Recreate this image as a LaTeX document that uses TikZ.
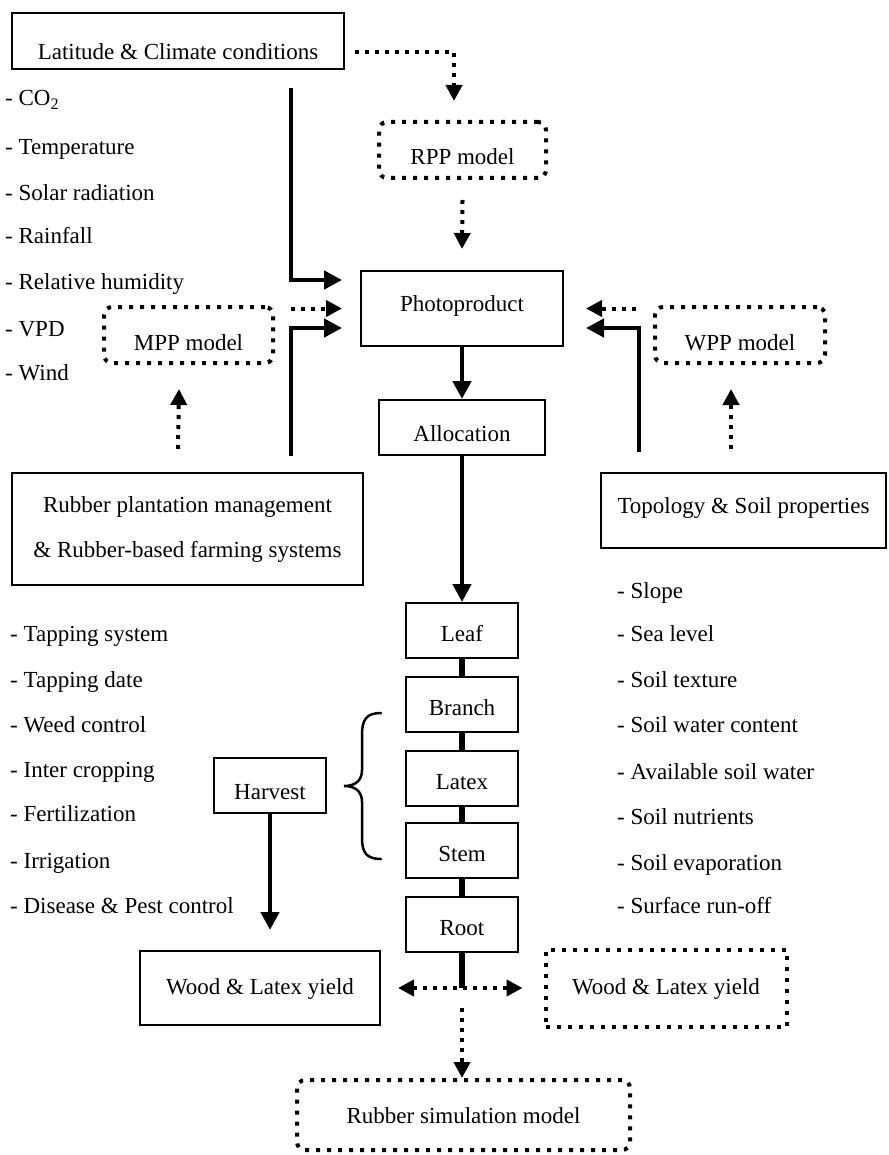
\documentclass[tikz,border=0pt]{standalone}
\usepackage{fontspec}
\setmainfont{Liberation Serif}
\usetikzlibrary{arrows.meta}
\newcommand{\fsz}{\fontsize{23}{45}\selectfont}
\begin{document}
\begin{tikzpicture}[x=1pt,y=-1pt,
  every node/.style={font=\fsz, inner sep=0pt},
  txt/.style={text depth=5.75pt, text height=#1},
  sbox/.style={draw, line width=2pt, rectangle},
  dbox/.style={draw, line width=4pt, dash pattern=on 4pt off 7pt},
  rbox/.style={dbox, rounded corners=8pt},
  item/.style={anchor=west, txt=21.75pt},
  solidarrow/.style={line width=4.5pt, -{Triangle[length=18pt,width=18pt]}},
  dotarrow/.style={line width=4pt, dash pattern=on 4pt off 6pt, -{Triangle[length=16pt,width=16pt]}},
  dotboth/.style={line width=4pt, dash pattern=on 4pt off 6pt, {Triangle[length=16pt,width=16pt]}-{Triangle[length=16pt,width=16pt]}},
  chain/.style={line width=6.5pt},
  bracestyle/.style={line width=2.5pt, line cap=round}
]
\useasboundingbox (0,0) rectangle (888,1155);

% boxes
\node[sbox, minimum width=332pt, minimum height=56pt, txt=43.75pt] (lat) at (178,41) {Latitude \& Climate conditions};
\node[rbox, minimum width=167pt, minimum height=56pt, txt=35.75pt] (rpp) at (462.5,150) {RPP model};
\node[sbox, minimum width=202pt, minimum height=75pt, txt=10.75pt] (photo) at (462,308.5) {Photoproduct};
\node[rbox, minimum width=169pt, minimum height=56pt, txt=35.75pt] (mpp) at (188.5,335) {MPP model};
\node[rbox, minimum width=170pt, minimum height=56pt, txt=35.75pt] (wpp) at (740,335) {WPP model};
\node[sbox, minimum width=166pt, minimum height=55pt, txt=32.75pt] (alloc) at (462,427.5) {Allocation};
\node[sbox, minimum width=351pt, minimum height=112pt, align=center] (mgmt) at (187.5,529) {Rubber plantation management\\\& Rubber-based farming systems};
\node[sbox, minimum width=285pt, minimum height=75pt, txt=10.75pt] (topo) at (743.5,510.5) {Topology \& Soil properties};

\node[sbox, minimum width=112pt, minimum height=55pt, txt=27.75pt] (leaf) at (462,630.5) {Leaf};
\node[sbox, minimum width=112pt, minimum height=55pt, txt=27.75pt] (branch) at (462,704.5) {Branch};
\node[sbox, minimum width=112pt, minimum height=55pt, txt=27.75pt] (latex) at (462,778) {Latex};
\node[sbox, minimum width=112pt, minimum height=55pt, txt=27.75pt] (stem) at (462,850.5) {Stem};
\node[sbox, minimum width=112pt, minimum height=55pt, txt=27.75pt] (root) at (462,924.5) {Root};
\node[sbox, minimum width=112pt, minimum height=55pt, txt=32.75pt] (harvest) at (270,785.5) {Harvest};
\node[sbox, minimum width=240pt, minimum height=74pt, txt=17.75pt] (woodL) at (260,988) {Wood \& Latex yield};
\node[dbox, minimum width=241pt, minimum height=77pt, txt=17.75pt] (woodR) at (666,988) {Wood \& Latex yield};
\node[rbox, minimum width=333pt, minimum height=70pt, txt=21.75pt] (sim) at (463.5,1115) {Rubber simulation model};

% lists
\node[item] (c1) at (5,98) {- CO\textsubscript{2}};
\node[item] (c2) at (5,147) {- Temperature};
\node[item] (c3) at (5,193) {- Solar radiation};
\node[item] (c4) at (5,236) {- Rainfall};
\node[item] (c5) at (5,282) {- Relative humidity};
\node[item] (c6) at (5,328) {- VPD};
\node[item] (c7) at (5,372) {- Wind};

\node[item] (m1) at (10,633) {- Tapping system};
\node[item] (m2) at (10,679) {- Tapping date};
\node[item] (m3) at (10,724) {- Weed control};
\node[item] (m4) at (10,769) {- Inter cropping};
\node[item] (m5) at (10,813) {- Fertilization};
\node[item] (m6) at (10,860) {- Irrigation};
\node[item] (m7) at (10,905) {- Disease \& Pest control};

\node[item] (s1) at (617,590) {- Slope};
\node[item] (s2) at (617,633) {- Sea level};
\node[item] (s3) at (617,679) {- Soil texture};
\node[item] (s4) at (617,724) {- Soil water content};
\node[item] (s5) at (617,771) {- Available soil water};
\node[item] (s6) at (617,816) {- Soil nutrients};
\node[item] (s7) at (617,862) {- Soil evaporation};
\node[item] (s8) at (617,905) {- Surface run-off};

% connectors
\draw[dotarrow] ([xshift=10pt,yshift=-11pt]lat.east) -| ([xshift=-8.5pt,yshift=19pt]rpp.north);
\draw[dotarrow] ([yshift=-20pt]rpp.south) -- ([yshift=21pt]photo.north);
\draw[solidarrow] ([xshift=113pt,yshift=-18pt]lat.south) |- ([xshift=-18pt,yshift=28.5pt]photo.west);
\draw[dotarrow] ([xshift=16pt]mpp.east |- photo.west) -- ([xshift=-18pt]photo.west);
\draw[solidarrow] ([xshift=103.5pt,yshift=16pt]mgmt.north) |- ([xshift=-18pt,yshift=-19.5pt]photo.west);
\draw[dotarrow] ([xshift=-9.5pt,yshift=23pt]mgmt.north) -- ([xshift=-9.5pt,yshift=-24pt]mpp.south);
\draw[dotarrow] ([xshift=-17pt]wpp.west |- photo.east) -- ([xshift=22pt]photo.east);
\draw[solidarrow] ([xshift=-104.5pt,yshift=20pt]topo.north) |- ([xshift=22pt,yshift=-19.5pt]photo.east);
\draw[dotarrow] ([xshift=-12.5pt,yshift=23pt]topo.north) -- ([xshift=-9pt,yshift=-24pt]wpp.south);

\draw[solidarrow] (photo.south) -- (alloc.north);
\draw[solidarrow] (alloc.south) -- (leaf.north);
\draw[chain] (leaf.south) -- (branch.north);
\draw[chain] (branch.south) -- (latex.north);
\draw[chain] (latex.south) -- (stem.north);
\draw[chain] (stem.south) -- (root.north);

\draw[solidarrow] (harvest.south) -- ([xshift=10pt,yshift=20pt]woodL.north);

\coordinate (j) at (root.south |- woodL.east);
\draw[chain] (root.south) -- (j);
\draw[dotboth] ([xshift=17pt]woodL.east) -- ([xshift=-21pt]woodR.west);
\draw[dotarrow] ([yshift=-20pt]j) -- (j |- sim.north);

% brace
\draw[bracestyle] (381,713) .. controls (366,713) and (362,720) .. (362,735) -- (362,770) .. controls (362,780) and (356,786) .. (344,786) .. controls (356,786) and (362,792) .. (362,802) -- (362,838) .. controls (362,852) and (366,859) .. (381,859);
\end{tikzpicture}
\end{document}
